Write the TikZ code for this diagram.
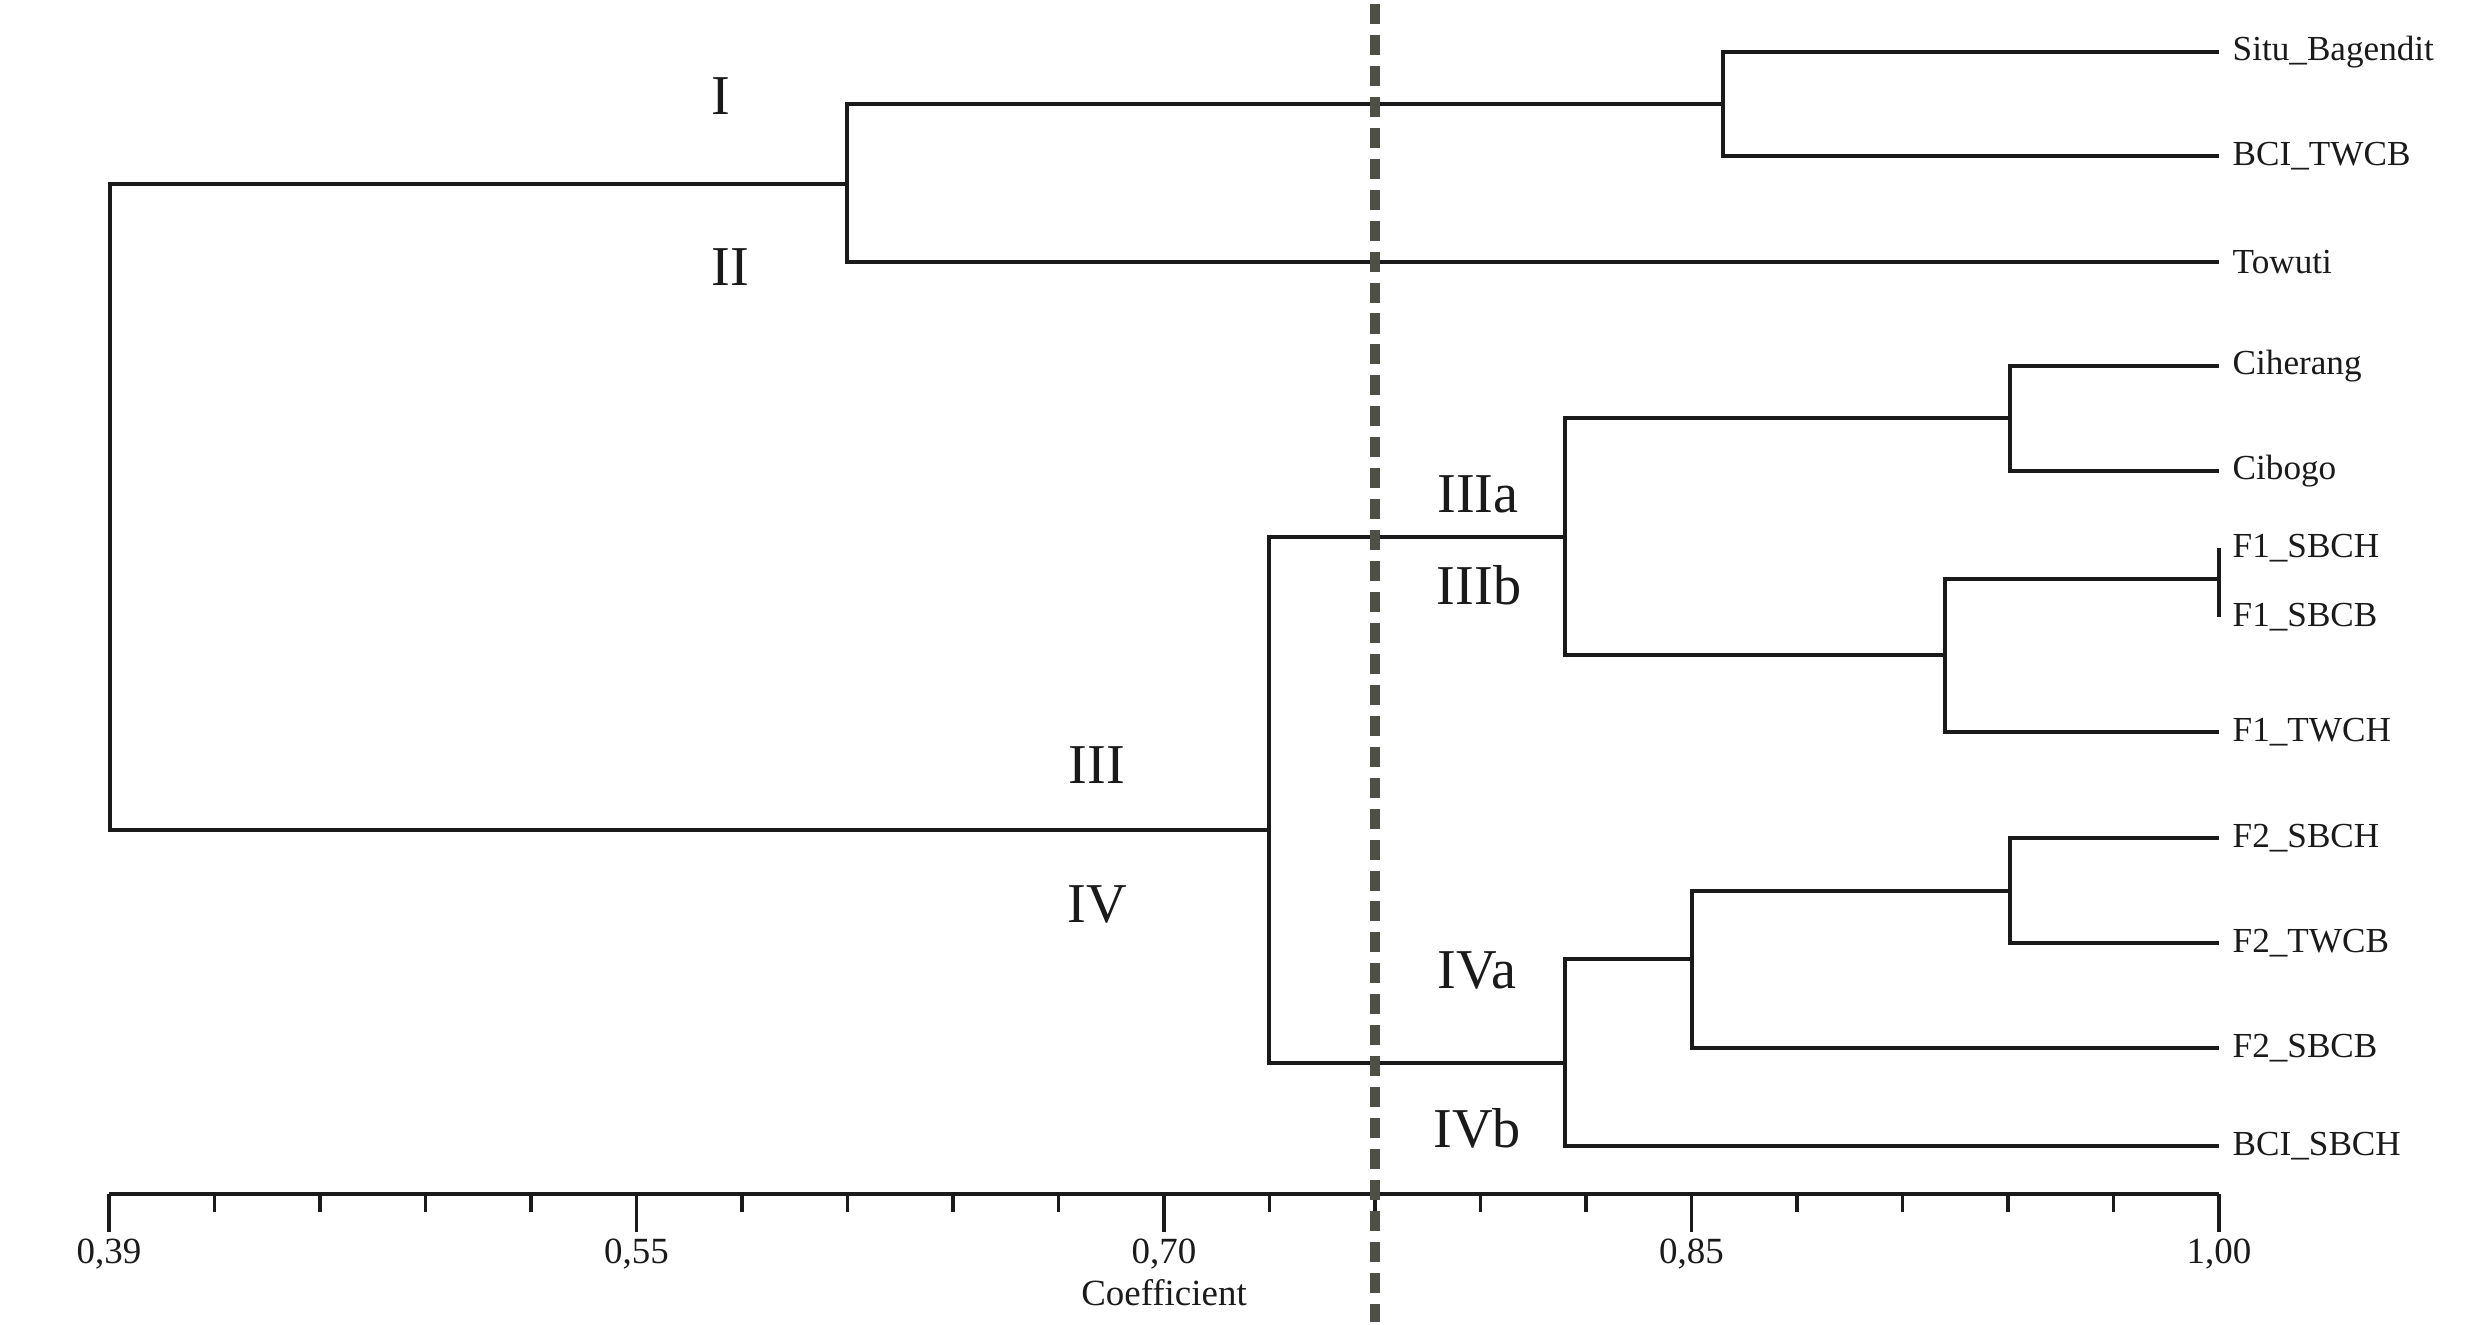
\documentclass[tikz,border=0pt]{standalone}
\usepackage{fontspec}
\setmainfont{Liberation Serif}
\definecolor{dnInk}{HTML}{1A1A1A}
\definecolor{dnCut}{HTML}{4F4F48}
\usetikzlibrary{positioning}

\begin{document}
\begin{tikzpicture}[x=0.01cm,y=-0.01cm,
  br/.style={draw=dnInk,line width=1.15pt},
  leaf/.style={font=\fontsize{10}{12}\selectfont,inner sep=0pt,anchor=west,text=dnInk},
  grp/.style={font=\fontsize{16}{19}\selectfont,inner sep=0pt,anchor=base,text=dnInk},
  axlbl/.style={font=\fontsize{10.5}{12}\selectfont,inner sep=0pt,anchor=base,text=dnInk},
  tick/.style={draw=dnInk,line width=1pt},
  cut/.style={draw=dnCut,line width=3.1pt,dash pattern=on 5.7pt off 3.1pt}
]
\useasboundingbox (0,0) rectangle (2485,1325);
% leaves
\foreach \n/\y/\t in {lSitu/52/Situ\_Bagendit, lTWCB/156/BCI\_TWCB, lTow/262/Towuti,
    lCih/366/Ciherang, lCib/471/Cibogo, lF1H/548/F1\_SBCH, lF1B/617/F1\_SBCB,
    lF1T/732/F1\_TWCH, lF2H/838/F2\_SBCH, lF2T/943/F2\_TWCB, lF2B/1048/F2\_SBCB,
    lBS/1146/BCI\_SBCH}{
  \coordinate (\n) at (2219,\y);
  \node[leaf,right=0.13cm of \n] (t\n) {\t};
}
% joins
\coordinate (jA) at (1723,104);
\coordinate (jI) at (847,184);
\coordinate (jR) at (110,507);
\coordinate (jX) at (1269,830);
\coordinate (jIII) at (1565,537);
\coordinate (jB) at (2010,418);
\coordinate (jC) at (1945,655);
\coordinate (jF) at (2219,579);
\coordinate (jIV) at (1565,1063);
\coordinate (jE) at (1692,959);
\coordinate (jD) at (2010,891);
% branches
\draw[br] (jA) |- (lSitu);
\draw[br] (jA) |- (lTWCB);
\draw[br] (jI) |- (jA);
\draw[br] (jI) |- (lTow);
\draw[br] (jR) |- (jI);
\draw[br] (jR) |- (jX);
\draw[br] (jX) |- (jIII);
\draw[br] (jX) |- (jIV);
\draw[br] (jIII) |- (jB);
\draw[br] (jIII) |- (jC);
\draw[br] (jB) |- (lCih);
\draw[br] (jB) |- (lCib);
\draw[br] (jC) |- (jF);
\draw[br] (jC) |- (lF1T);
\draw[br] (lF1H) -- (lF1B);
\draw[br] (jIV) |- (jE);
\draw[br] (jIV) |- (lBS);
\draw[br] (jE) |- (jD);
\draw[br] (jE) |- (lF2B);
\draw[br] (jD) |- (lF2H);
\draw[br] (jD) |- (lF2T);
% groups
\node[grp] (gI) at (721,115) {I};
\node[grp] (gII) at (730,286) {II};
\node[grp] (gIII) at (1097,784) {III};
\node[grp] (gIV) at (1097,922) {IV};
\node[grp] (gIIIa) at (1478,513) {IIIa};
\node[grp] (gIIIb) at (1479,605) {IIIb};
\node[grp] (gIVa) at (1477,988) {IVa};
\node[grp] (gIVb) at (1477,1147) {IVb};
% scale
\coordinate (ax0) at (109,1194);
\coordinate (ax1) at (2219,1194);
\draw[br] (ax0) -- (ax1);
\foreach \i in {0,...,20}
  \draw[tick] (109+\i*105.5,1194) -- ++(0,18);
\foreach \i/\v in {0/0{,}39, 5/0{,}55, 10/0{,}70, 15/0{,}85, 20/1{,}00}{
  \draw[tick] (109+\i*105.5,1194) -- ++(0,38);
  \node[axlbl] (v\i) at (109+\i*105.5,1263) {\v};
}
\node[axlbl] (coef) at (1164,1305) {Coefficient};
% cut-off
\coordinate (cutTop) at (1375,4);
\coordinate (cutBot) at (1375,1322);
\draw[cut] (cutTop) -- (cutBot);
\end{tikzpicture}
\end{document}
